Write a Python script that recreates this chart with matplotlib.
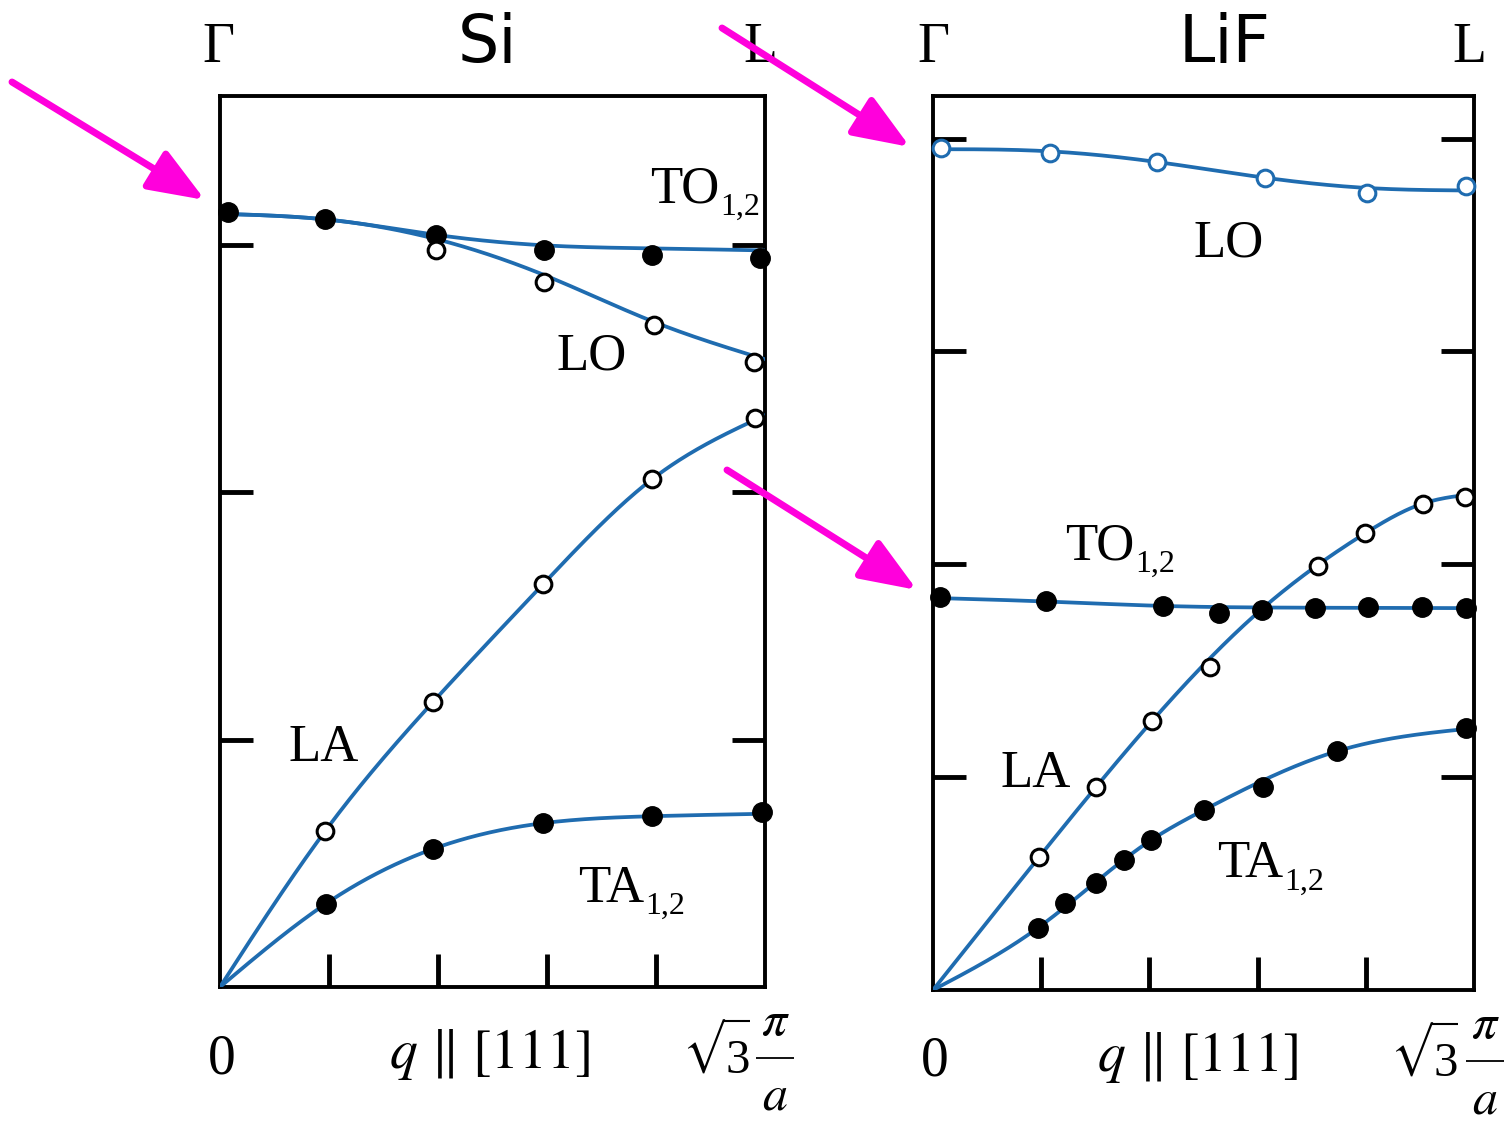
import numpy as np
import matplotlib
matplotlib.use("Agg")
import matplotlib.pyplot as plt
from matplotlib.patches import FancyArrowPatch
from matplotlib.lines import Line2D
from matplotlib.textpath import TextPath
from matplotlib.font_manager import FontProperties

plt.rcParams['mathtext.fontset'] = 'stix'
plt.rcParams['font.family'] = ['Liberation Serif', 'DejaVu Serif']

W, H = 1506, 1123
BLUE = '#1f6cb0'
MAGENTA = '#ff00dc'

# ---- Si: measured points (q in units of L-point, f in THz) ----
si_to_q = [0.015, 0.193, 0.396, 0.594, 0.793, 0.99]
si_to_f = [15.66, 15.52, 15.19, 14.89, 14.79, 14.73]
si_lo_q = [0.396, 0.594, 0.796, 0.98]
si_lo_f = [14.89, 14.24, 13.37, 12.63]
si_la_q = [0.193, 0.391, 0.593, 0.793, 0.982]
si_la_f = [3.15, 5.76, 8.14, 10.26, 11.49]
si_ta_q = [0.194, 0.391, 0.593, 0.793, 0.995]
si_ta_f = [1.68, 2.79, 3.31, 3.45, 3.54]

# Si dispersion curves
si_to_line_q = [0.0, 0.2, 0.4, 0.6, 0.8, 1.0]
si_to_line_f = [15.62, 15.50, 15.19, 14.98, 14.92, 14.88]
si_lo_line_q = [0.0, 0.2, 0.4, 0.6, 0.8, 1.0]
si_lo_line_f = [15.62, 15.50, 15.10, 14.36, 13.42, 12.68]
si_la_line_q = [0.0, 0.193, 0.391, 0.593, 0.793, 1.0]
si_la_line_f = [0.0, 3.15, 5.76, 8.14, 10.26, 11.55]
si_ta_line_q = [0.0, 0.194, 0.391, 0.593, 0.793, 1.0]
si_ta_line_f = [0.0, 1.68, 2.79, 3.31, 3.45, 3.50]

# ---- LiF: measured points ----
lif_lo_q = [0.015, 0.216, 0.414, 0.614, 0.802, 0.985]
lif_lo_f = [19.78, 19.66, 19.45, 19.07, 18.72, 18.89]
lif_to_q = [0.013, 0.209, 0.425, 0.529, 0.608, 0.706, 0.804, 0.904, 0.985]
lif_to_f = [9.23, 9.14, 9.02, 8.86, 8.93, 8.97, 9.00, 9.00, 8.97]
lif_la_q = [0.196, 0.301, 0.405, 0.512, 0.711, 0.799, 0.905, 0.983]
lif_la_f = [3.12, 4.77, 6.32, 7.59, 9.96, 10.73, 11.42, 11.58]
lif_ta_q = [0.194, 0.244, 0.301, 0.353, 0.403, 0.501, 0.610, 0.747, 0.985]
lif_ta_f = [1.46, 2.04, 2.51, 3.05, 3.52, 4.23, 4.77, 5.61, 6.15]

# LiF dispersion curves
lif_lo_line_q = [0.0, 0.216, 0.414, 0.614, 0.802, 1.0]
lif_lo_line_f = [19.75, 19.70, 19.45, 19.08, 18.84, 18.78]
lif_to_line_q = [0.0, 0.2, 0.43, 0.7, 1.0]
lif_to_line_f = [9.21, 9.13, 9.02, 8.98, 8.97]
lif_la_line_q = [0.0, 0.196, 0.405, 0.608, 0.799, 0.904, 1.0]
lif_la_line_f = [0.0, 3.12, 6.32, 8.95, 10.73, 11.42, 11.65]
lif_ta_line_q = [0.0, 0.194, 0.403, 0.501, 0.747, 1.0]
lif_ta_line_f = [0.0, 1.46, 3.52, 4.23, 5.61, 6.15]


def spline(xk, yk, n=300):
    # natural cubic spline through the knots
    xk = np.asarray(xk, float)
    yk = np.asarray(yk, float)
    m = len(xk)
    h = np.diff(xk)
    A = np.zeros((m, m))
    r = np.zeros(m)
    A[0, 0] = A[-1, -1] = 1
    for i in range(1, m - 1):
        A[i, i - 1:i + 2] = h[i - 1], 2 * (h[i - 1] + h[i]), h[i]
        r[i] = 6 * ((yk[i + 1] - yk[i]) / h[i] - (yk[i] - yk[i - 1]) / h[i - 1])
    M = np.linalg.solve(A, r)
    xs = np.linspace(xk[0], xk[-1], n)
    i = np.clip(np.searchsorted(xk, xs) - 1, 0, m - 2)
    t0 = xs - xk[i]
    t1 = xk[i + 1] - xs
    hi = h[i]
    ys = (M[i] * t1 ** 3 + M[i + 1] * t0 ** 3) / (6 * hi) \
        + (yk[i] / hi - M[i] * hi / 6) * t1 + (yk[i + 1] / hi - M[i + 1] * hi / 6) * t0
    return xs, ys


def fx(px, py):
    return px / W, 1 - py / H


def filled(ax, q, f):
    ax.plot(q, f, 'o', ms=14, mfc='black', mec='black', clip_on=False, zorder=4)


def hollow(ax, q, f, edge='black'):
    ax.plot(q, f, 'o', ms=12, mfc='white', mec=edge, mew=2.2, clip_on=False, zorder=4)


def curve(ax, q, f):
    xs, ys = spline(q, f)
    ax.plot(xs, ys, color=BLUE, lw=2.7, zorder=3, solid_capstyle='round')


def setup(ax, ymax, yticks):
    ax.set_xlim(0, 1)
    ax.set_ylim(0, ymax)
    ax.set_xticks([0.2, 0.4, 0.6, 0.8])
    ax.set_yticks(yticks)
    ax.tick_params(direction='in', length=24, width=3.5, top=False, right=True,
                   labelbottom=False, labelleft=False)
    for s in ax.spines.values():
        s.set_linewidth(2.8)


def label(ax, x, y, main, sub=None):
    t = ax.text(x, y, main, fontsize=38, va='baseline', ha='left')
    if sub:
        ax.annotate(sub, xy=(1, 0), xycoords=t, xytext=(1, -1),
                    textcoords='offset points', fontsize=23, va='baseline', ha='left')


def hline(x0, x1, y, lw):
    (xa, ya), (xb, yb) = fx(x0, y), fx(x1, y)
    fig.add_artist(Line2D([xa, xb], [ya, yb], transform=fig.transFigure,
                          color='black', lw=lw, solid_capstyle='butt'))


def sqrt_pi_over_a(xleft, ybar, xbar):
    # radical sign sized from its glyph outline so the vinculum meets its top
    ytop, ybot = ybar - 38, ybar + 16
    fp = FontProperties(family='STIXGeneral')
    bb = TextPath((0, 0), '\u221a', size=100, prop=fp).get_extents()
    fs = 72 * (ybot - ytop) / bb.height
    k = fs / 72
    fig.text(*fx(xleft - bb.x0 * k, ytop + bb.y1 * k), '\u221a', fontsize=fs,
             ha='left', va='baseline', family='STIXGeneral')
    xr = xleft + bb.width * k
    fig.text(*fx(xr + 1, ybar + 15), '3', fontsize=35, ha='left', va='baseline')
    hline(xr - 1.5, xr + 26, ytop + 1, 1.5)
    fig.text(*fx(xbar, ybar - 23), r'$\pi$', fontsize=36, ha='center', va='baseline')
    fig.text(*fx(xbar, ybar + 52), r'$a$', fontsize=36, ha='center', va='baseline')
    hline(xbar - 19, xbar + 19, ybar, 1.3)


fig = plt.figure(figsize=(W / 100, H / 100), dpi=100)

# ---- Si panel ----
ax1 = fig.add_axes([220 / W, 1 - 987 / H, 545 / W, 891 / H])
setup(ax1, 18, [5, 10, 15])
curve(ax1, si_to_line_q, si_to_line_f)
curve(ax1, si_lo_line_q, si_lo_line_f)
curve(ax1, si_la_line_q, si_la_line_f)
curve(ax1, si_ta_line_q, si_ta_line_f)
filled(ax1, si_to_q, si_to_f)
hollow(ax1, si_lo_q, si_lo_f)
hollow(ax1, si_la_q, si_la_f)
filled(ax1, si_ta_q, si_ta_f)
label(ax1, 0.789, 15.84, 'TO', '1,2')
label(ax1, 0.617, 12.48, 'LO')
label(ax1, 0.125, 4.57, 'LA')
label(ax1, 0.657, 1.72, 'TA', '1,2')

# ---- LiF panel ----
ax2 = fig.add_axes([933 / W, 1 - 990 / H, 541 / W, 894 / H])
setup(ax2, 21, [5, 10, 15, 20])
curve(ax2, lif_lo_line_q, lif_lo_line_f)
curve(ax2, lif_to_line_q, lif_to_line_f)
curve(ax2, lif_la_line_q, lif_la_line_f)
curve(ax2, lif_ta_line_q, lif_ta_line_f)
hollow(ax2, lif_lo_q, lif_lo_f, edge=BLUE)
filled(ax2, lif_to_q, lif_to_f)
hollow(ax2, lif_la_q, lif_la_f)
filled(ax2, lif_ta_q, lif_ta_f)
label(ax2, 0.481, 17.22, 'LO')
label(ax2, 0.244, 10.12, 'TO', '1,2')
label(ax2, 0.124, 4.77, 'LA')
label(ax2, 0.525, 2.65, 'TA', '1,2')

# ---- top labels ----
for x0, xL, xt, name in [(218, 760, 488, 'Si'), (933, 1469, 1225, 'LiF')]:
    fig.text(*fx(x0, 62), '\u0393', fontsize=40, ha='center', va='baseline')
    fig.text(*fx(xL, 62), 'L', fontsize=40, ha='center', va='baseline')
    fig.text(*fx(xt, 62), name, fontsize=47, ha='center', va='baseline',
             family='DejaVu Sans')

# ---- bottom labels ----
for x0, xq, xs, xbar, dy in [(222, 489, 687, 775, 0), (935, 1197, 1395, 1485, 3)]:
    fig.text(*fx(x0, 1073 + dy), '0', fontsize=40, ha='center', va='baseline')
    fig.text(*fx(xq, 1068 + dy), r'$q\ \Vert\ [111]$', fontsize=40,
             ha='center', va='baseline')
    sqrt_pi_over_a(xs, 1058 + dy, xbar)

# ---- magenta arrows ----
for (xa, ya), (xb, yb) in [((12, 82), (205, 200)),
                           ((722, 28), (910, 147)),
                           ((727, 470), (917, 590))]:
    arr = FancyArrowPatch(fx(xa, ya), fx(xb, yb), transform=fig.transFigure,
                          arrowstyle='-|>,head_length=1.15,head_width=0.45',
                          mutation_scale=30, lw=5, color=MAGENTA,
                          shrinkA=0, shrinkB=0, zorder=10)
    fig.add_artist(arr)

fig.savefig('out.png', dpi=100)
